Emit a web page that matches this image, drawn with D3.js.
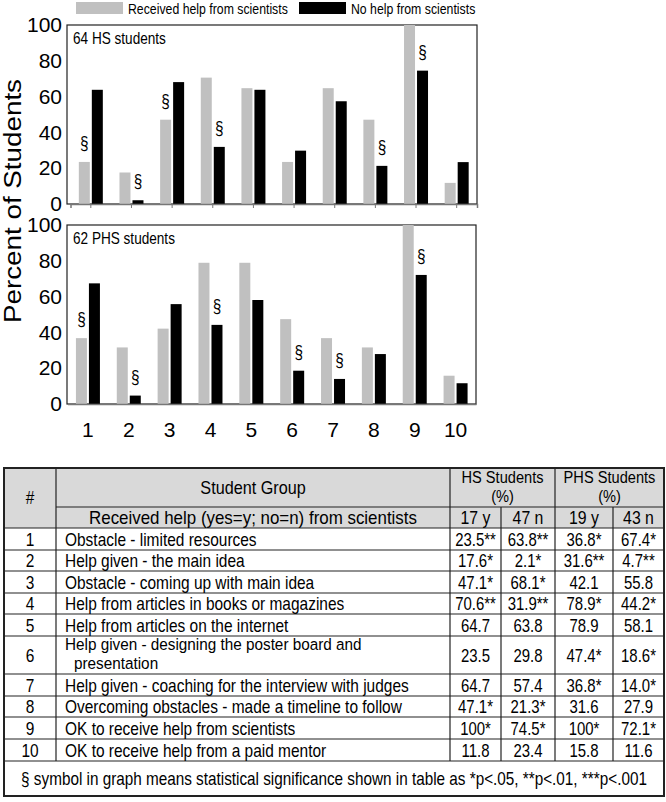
<!DOCTYPE html>
<html>
<head>
<meta charset="utf-8">
<script src="https://cdn.jsdelivr.net/npm/d3@7"></script>
<style>
body { margin: 0; background: #fff; }
svg { display: block; }
text { font-family: "Liberation Sans", Arial, sans-serif; fill: #000; }
</style>
</head>
<body>
<div id="chart"></div>
<script>

// ---------- data ----------
var categories = ["1", "2", "3", "4", "5", "6", "7", "8", "9", "10"];
var seriesNames = ["Received help from scientists", "No help from scientists"];

// percent of students
var hsYes  = [23.5, 17.6, 47.1, 70.6, 64.7, 23.5, 64.7, 47.1, 100, 11.8];
var hsNo   = [63.8, 2.1, 68.1, 31.9, 63.8, 29.8, 57.4, 21.3, 74.5, 23.4];
var phsYes = [36.8, 31.6, 42.1, 78.9, 78.9, 47.4, 36.8, 31.6, 100, 15.8];
var phsNo  = [67.4, 4.7, 55.8, 44.2, 58.1, 18.6, 14.0, 27.9, 72.1, 11.6];

// significance stars shown in the table
var hsYesStars  = ["**", "*", "*", "**", "", "", "", "*", "*", ""];
var hsNoStars   = ["**", "*", "*", "**", "", "", "", "*", "*", ""];
var phsYesStars = ["*", "**", "", "*", "", "*", "*", "", "*", ""];
var phsNoStars  = ["*", "**", "", "*", "", "*", "*", "", "*", ""];

// which bar carries the § in the graph (0 = yes bar, 1 = no bar, -1 none)
var hsMark  = [0, 1, 0, 1, -1, -1, -1, 1, 1, -1];
var phsMark = [0, 1, -1, 1, -1, 1, 1, -1, 1, -1];

var yTicks = [0, 20, 40, 60, 80, 100];

var rowLabels = [
	["Obstacle - limited resources"],
	["Help given - the main idea"],
	["Obstacle - coming up with main idea"],
	["Help from articles in books or magazines"],
	["Help from articles on the internet"],
	["Help given - designing the poster board and", "presentation"],
	["Help given - coaching for the interview with judges"],
	["Overcoming obstacles - made a timeline to follow"],
	["OK to receive help from scientists"],
	["OK to receive help from a paid mentor"]
];
var groupHeaders = [["HS Students", "(%)"], ["PHS Students", "(%)"]];
var subHeaders = ["17 y", "47 n", "19 y", "43 n"];
var footNote = "§ symbol in graph means statistical significance shown in table as *p<.05, **p<.01, ***p<.001";


// ---------- setup ----------
var W = 666, H = 802;
var colors = ["#c0c0c0", "#000000"];

var svg = d3.select('#chart').append('svg')
	.attr("width", W)
	.attr("height", H);

// text helper, sx squeezes the glyphs a bit like the original
function label(sel, x, y, s, size, anchor, sx) {
	return sel.append('text')
		.attr('transform', 'translate(' + x + ',' + y + ') scale(' + (sx || 1) + ',1)')
		.attr('text-anchor', anchor || 'start')
		.style('font-size', size + 'px')
		.text(s);
}


// ---------- legend ----------
var legend = [{ x: 76, tx: 128 }, { x: 299, tx: 351 }];
legend.forEach(function (d, i) {
	svg.append('rect')
		.attr('x', d.x).attr('y', 2)
		.attr('width', 47).attr('height', 12)
		.attr('fill', colors[i]);
	label(svg, d.tx, 14, seriesNames[i], 15, 'start', 0.82);
});


// ---------- panels ----------
function drawPanel(top, bottom, xRange, yes, no, marks, title, showTicks, showLabels) {

	var g = svg.append('g');

	var y = d3.scaleLinear().domain([0, 100]).range([bottom, top]);
	var x = d3.scaleBand().domain(categories).range(xRange);
	var xSub = d3.scaleBand().domain([0, 1]).range([-12, 12]).paddingInner(0.154);

	// frame
	g.append('rect')
		.attr('x', 67).attr('y', top)
		.attr('width', xRange[1] - 67).attr('height', bottom - top)
		.attr('fill', 'none')
		.attr('stroke', '#222').attr('stroke-width', 1.2);

	// bars
	var groups = g.selectAll('.grp')
		.data(categories).enter()
		.append('g')
		.attr('class', 'grp')
		.attr('transform', function (d) { return 'translate(' + (x(d) + x.bandwidth() / 2) + ',0)'; });

	groups.selectAll('rect')
		.data(function (d, i) { return [yes[i], no[i]]; }).enter()
		.append('rect')
		.attr('x', function (d, j) { return xSub(j); })
		.attr('width', xSub.bandwidth())
		.attr('y', function (d) { return y(d); })
		.attr('height', function (d) { return y(0) - y(d); })
		.attr('fill', function (d, j) { return colors[j]; });

	// § marks
	groups.each(function (d, i) {
		if (marks[i] < 0) return;
		var v = marks[i] === 0 ? yes[i] : no[i];
		label(d3.select(this), xSub(marks[i]) + xSub.bandwidth() / 2, y(v) - 13, "§", 18, 'middle', 0.85);
	});

	// bottom axis line
	var xAxis = g.append('g')
		.attr('transform', 'translate(0,' + bottom + ')')
		.call(d3.axisBottom(x).tickSize(showTicks ? 4 : 0).tickPadding(18)
			.tickFormat(showLabels ? null : function () { return ''; }));
	xAxis.select('.domain').attr('stroke', '#777').attr('stroke-width', 1.5);
	xAxis.selectAll('.tick line').attr('stroke', '#777');
	xAxis.selectAll('.tick text')
		.style('font-size', '21px')
		.style('font-family', '"Liberation Sans", Arial, sans-serif')
		.attr('fill', '#000');

	// y axis labels
	var yAxis = g.append('g')
		.attr('transform', 'translate(67,0)')
		.call(d3.axisLeft(y).tickValues(yTicks).tickSize(0).tickPadding(5));
	yAxis.select('.domain').remove();
	yAxis.selectAll('.tick text')
		.style('font-size', '21px')
		.style('font-family', '"Liberation Sans", Arial, sans-serif')
		.attr('fill', '#000');

	label(g, 73, top + 19, title, 16, 'start', 0.85);
}

drawPanel(25, 204, [70.5, 477], hsYes, hsNo, hsMark, "64 HS students", true, false);
drawPanel(225, 404, [67.5, 476], phsYes, phsNo, phsMark, "62 PHS students", false, true);

// y axis title
svg.append('text')
	.attr('transform', 'translate(21,201) rotate(-90)')
	.attr('text-anchor', 'middle')
	.attr('textLength', 244)
	.attr('lengthAdjust', 'spacingAndGlyphs')
	.style('font-size', '23px')
	.text("Percent of Students");


// ---------- table ----------
var tb = svg.append('g');
var colX = [4, 56, 450, 501, 555, 613, 664];
var hdrTop = 468, hdrMid = 507, hdrBot = 528;
var rowH = [22, 21, 22, 21, 22, 38, 22, 21, 22, 22];
var rowTop = [];
rowH.reduce(function (acc, h) { rowTop.push(acc); return acc + h; }, hdrBot);
var bodyBot = rowTop[rowTop.length - 1] + rowH[rowH.length - 1];
var tblBot = 796;
var fs = 18, sx = 0.86;

// header background
tb.append('rect')
	.attr('x', colX[0]).attr('y', hdrTop)
	.attr('width', colX[6] - colX[0]).attr('height', hdrBot - hdrTop)
	.attr('fill', '#d9d9d9');

function hline(y, x1, x2) {
	tb.append('line').attr('x1', x1).attr('x2', x2).attr('y1', y).attr('y2', y)
		.attr('stroke', '#222').attr('stroke-width', 1.2);
}
function vline(x, y1, y2) {
	tb.append('line').attr('x1', x).attr('x2', x).attr('y1', y1).attr('y2', y2)
		.attr('stroke', '#222').attr('stroke-width', 1.2);
}

hline(hdrMid, colX[1], colX[6]);
hline(hdrBot, colX[0], colX[6]);
rowTop.forEach(function (t, i) { hline(t + rowH[i], colX[0], colX[6]); });
vline(colX[1], hdrTop, bodyBot);
vline(colX[2], hdrTop, bodyBot);
vline(colX[4], hdrTop, bodyBot);
vline(colX[3], hdrMid, bodyBot);
vline(colX[5], hdrMid, bodyBot);

tb.append('rect')
	.attr('x', colX[0]).attr('y', hdrTop)
	.attr('width', colX[6] - colX[0]).attr('height', tblBot - hdrTop)
	.attr('fill', 'none')
	.attr('stroke', '#222').attr('stroke-width', 2);

// header text
label(tb, (colX[0] + colX[1]) / 2, (hdrTop + hdrBot) / 2 + 6, "#", fs, 'middle', sx);
label(tb, (colX[1] + colX[2]) / 2, (hdrTop + hdrMid) / 2 + 6, "Student Group", fs, 'middle', 0.9);
label(tb, (colX[1] + colX[2]) / 2, (hdrMid + hdrBot) / 2 + 6.5, "Received help (yes=y; no=n) from scientists", fs, 'middle', 0.94);
groupHeaders.forEach(function (lines, i) {
	var cx = (colX[2 + i * 2] + colX[4 + i * 2]) / 2;
	label(tb, cx, hdrTop + 15, lines[0], 17, 'middle', 0.86);
	label(tb, cx, hdrTop + 34, lines[1], 17, 'middle', 0.86);
});
subHeaders.forEach(function (s, i) {
	label(tb, (colX[2 + i] + colX[3 + i]) / 2, (hdrMid + hdrBot) / 2 + 6.5, s, fs, 'middle', 0.88);
});

// body
var valueCols = [[hsYes, hsYesStars], [hsNo, hsNoStars], [phsYes, phsYesStars], [phsNo, phsNoStars]];
categories.forEach(function (c, i) {
	var cy = rowTop[i] + rowH[i] / 2 + 6.5;
	label(tb, (colX[0] + colX[1]) / 2, cy, c, fs, 'middle', sx);
	var lines = rowLabels[i];
	if (lines.length === 1) {
		label(tb, 65, cy, lines[0], fs, 'start', sx);
	} else {
		label(tb, 65, rowTop[i] + 14, lines[0], 17, 'start', 0.9);
		label(tb, 74, rowTop[i] + 33, lines[1], 17, 'start', 0.9);
	}
	valueCols.forEach(function (vc, j) {
		var v = vc[0][i];
		var s = (v === 100 ? "100" : v.toFixed(1)) + vc[1][i];
		label(tb, (colX[2 + j] + colX[3 + j]) / 2, cy, s, fs, 'middle', 0.83);
	});
});

// footnote
label(tb, (colX[0] + colX[6]) / 2, (bodyBot + tblBot) / 2 + 6.5, footNote, fs, 'middle', 0.85);

</script>
</body>
</html>
